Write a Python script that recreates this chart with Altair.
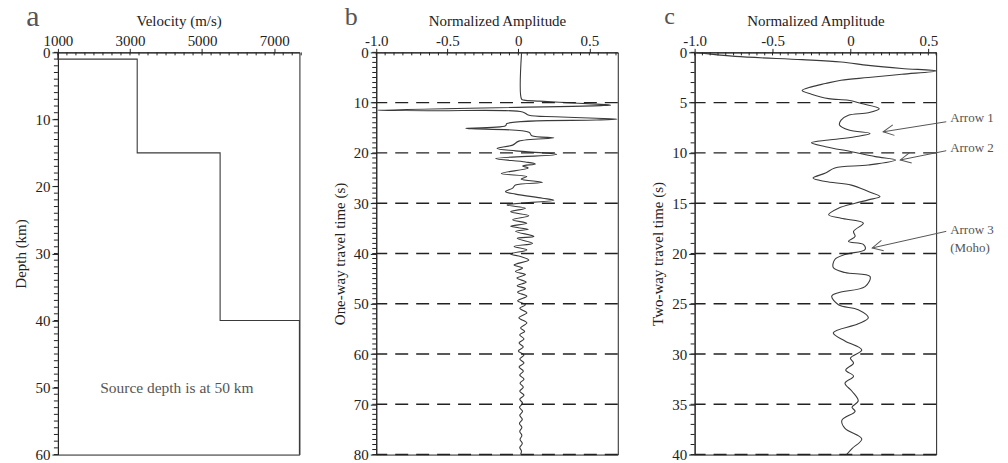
import altair as alt
import pandas as pd
import numpy as np

FONT = "Liberation Serif"
INK = "#222222"
TRACE = "#3a3a3a"
GRAY = "#555555"

# ---------------- Panel a: velocity model ----------------
layer_top_depth = [0, 1, 15, 40]
layer_bottom_depth = [1, 15, 40, 60]
layer_velocity = [1000, 3200, 5500, 7700]
note_text = ["Source depth is at 50 km"]
note_velocity = [4300]
note_depth = [50]

# ---------------- Panel b: one-way trace ----------------
b_time = [0.0, 9.3, 9.5, 9.7, 10.0, 10.3, 10.5, 10.6, 11.5, 11.6, 11.85, 12.5, 12.8, 13.1, 13.3,
          13.45, 14.15, 14.6, 15.1, 15.2, 15.9, 16.6, 17.0, 17.65, 18.45, 19.1, 19.6, 20.3, 21.1,
          21.8, 22.2, 22.6, 23.0, 24.1, 24.7, 25.2, 25.85, 26.4, 27.0, 27.7, 28.2, 29.0, 29.4,
          30.35, 31.0, 31.7, 32.5, 33.3, 34.0, 34.6, 35.2, 35.6, 36.6, 37.0, 38.0, 38.6, 39.3,
          40.1, 40.6, 41.3, 42.3, 42.9, 43.6, 44.2, 44.9, 45.7, 46.4, 47.0, 47.7, 48.5, 49.4,
          50.2, 50.9, 51.8, 52.8, 53.8, 54.8, 55.5, 56.2, 57.0, 57.8, 58.6, 59.4, 60.2, 61.0,
          61.8, 62.6, 63.4, 64.2, 65.0, 65.8, 66.6, 67.4, 68.2, 69.0, 69.8, 70.6, 71.4, 72.2,
          73.0, 73.8, 74.6, 75.4, 76.2, 77.0, 77.8, 78.6, 79.3, 80.0]
b_amp = [0.023, 0.023, 0.04, 0.15, 0.34, 0.55, 0.65, 0.58, -0.99, -0.6, 0.03, 0.075, 0.26, 0.55, 0.695,
         0.55, -0.08, -0.09, -0.37, -0.33, 0.075, 0.095, 0.25, 0.004, -0.04, -0.15, -0.02, 0.27, -0.16,
         0.05, 0.12, 0.03, 0.07, -0.12, 0.06, 0.02, 0.17, -0.02, -0.04, -0.09, -0.02, 0.17, 0.25,
         -0.08, 0.05, -0.054, 0.074, -0.04, 0.06, -0.054, 0.07, -0.02, 0.11, -0.008, 0.1, -0.03, 0.06,
         -0.054, 0.016, 0.074, -0.03, 0.03, -0.02, 0.05, -0.01, 0.055, -0.008, 0.05, -0.005, 0.06, -0.005,
         0.05, 0.01, 0.06, 0.004, 0.06, 0.016, 0.045, 0.01, 0.04, 0.005, 0.035, 0.0, 0.04, 0.01,
         0.04, 0.005, 0.035, 0.01, 0.04, 0.012, 0.035, 0.01, 0.04, 0.01, 0.03, 0.008, 0.03, 0.01,
         0.028, 0.008, 0.025, 0.01, 0.025, 0.012, 0.028, 0.01, 0.022, 0.016]
b_dash_times = [10, 20, 30, 40, 50, 60, 70, 80]

# ---------------- Panel c: two-way trace ----------------
c_time = [0.0, 0.4, 0.72, 0.96, 1.29, 1.6, 1.85, 2.18, 2.5, 2.77, 3.1, 3.43, 3.8, 4.16, 4.6, 4.76,
          5.09, 5.6, 6.0, 6.25, 6.74, 7.23, 7.73, 8.06, 8.39, 8.72, 8.99, 9.38, 9.88, 10.37, 10.7,
          11.2, 11.5, 12.0, 12.5, 12.85, 13.2, 13.84, 14.34, 14.67, 15.0, 15.5, 16.15, 16.5, 16.98,
          17.8, 18.3, 18.8, 19.1, 19.6, 20.1, 20.6, 21.4, 21.9, 22.3, 23.3, 23.9, 24.25, 25.1, 25.6,
          26.4, 27.0, 27.9, 28.7, 29.6, 30.4, 30.9, 31.6, 32.2, 32.9, 33.7, 34.66, 35.3, 35.7, 36.6,
          37.4, 38.45, 39.4, 40.0]
c_amp = [-1.0, -0.74, -0.31, -0.06, 0.115, 0.33, 0.55, 0.33, 0.115, -0.06, -0.16, -0.25, -0.31, -0.25, -0.14, -0.013,
         0.07, 0.185, 0.115, -0.013, -0.06, -0.07, -0.01, 0.126, 0.03, -0.14, -0.25, -0.16, 0.006, 0.16, 0.29,
         0.115, -0.1, -0.16, -0.24, -0.16, 0.006, 0.115, 0.19, 0.115, 0.03, -0.077, -0.14, -0.06, 0.083,
         0.02, 0.03, -0.013, 0.083, 0.094, -0.035, -0.1, -0.11, -0.035, 0.126, 0.094, -0.077, -0.12, -0.077, 0.05,
         0.115, 0.05, -0.11, -0.035, 0.073, 0.0, 0.02, -0.03, 0.02, -0.035, 0.01, 0.05, 0.01, 0.03, -0.055,
         -0.035, 0.073, 0.01, -0.025]
c_dash_times = [5, 10, 15, 20, 25, 30, 35, 40]

arrow_labels = ["Arrow 1", "Arrow 2", "Arrow 3", "(Moho)"]
arrow_label_time = [6.57, 9.48, 17.64, 19.46]
arrow_label_amp = [0.64, 0.64, 0.64, 0.64]
arrow_tail_amp = [0.615, 0.615, 0.615]
arrow_tail_time = [6.9, 9.78, 17.8]
arrow_tip_amp = [0.21, 0.32, 0.14]
arrow_tip_time = [7.9, 10.7, 19.45]

W, H = 242, 403


def amp_label_expr():
    return "datum.value == 0 ? '0' : (datum.value < 0 ? '-' : '') + format(abs(datum.value), '.1f')"


def minor_values(lo, hi, step):
    n = int(round((hi - lo) / step))
    return [round(lo + i * step, 6) for i in range(n + 1)]


def panel(df, xfield, yfield, xdom, ydom, xmajor, xminor_step, ymajor, yminor_step,
          xtitle, ytitle, xlabelexpr, xformat, letter, letter_size, extra_layers, interp="linear"):
    xs = alt.Scale(domain=xdom, nice=False, zero=False)
    ys = alt.Scale(domain=ydom, nice=False, zero=False, reverse=True)
    base = alt.Chart(df)
    xaxis_kwargs = dict(orient="top", values=xmajor, title=xtitle, tickSize=4, labelPadding=0,
                        titlePadding=5, grid=False, labelFlush=False, labelOverlap=False)
    if xlabelexpr:
        xaxis_kwargs["labelExpr"] = xlabelexpr
    if xformat:
        xaxis_kwargs["format"] = xformat
    main = base.mark_line(color=TRACE, strokeWidth=1.1, interpolate=interp).encode(
        x=alt.X(f"{xfield}:Q", scale=xs, axis=alt.Axis(**xaxis_kwargs)),
        y=alt.Y(f"{yfield}:Q", scale=ys, axis=alt.Axis(orient="left", values=ymajor, title=ytitle,
                                                      tickSize=6, labelPadding=2, titlePadding=6,
                                                      format="d", grid=False, labelFlush=False)),
        order="i:Q",
    )
    xminor = alt.Chart(pd.DataFrame({"m": minor_values(xdom[0], xdom[1], xminor_step)})).mark_rule(
        color=INK, strokeWidth=1).encode(
        x=alt.X("m:Q", scale=xs, axis=None), y=alt.value(0), y2=alt.value(3))
    yminor = alt.Chart(pd.DataFrame({"m": minor_values(ydom[0], ydom[1], yminor_step)})).mark_rule(
        color=INK, strokeWidth=1).encode(
        y=alt.Y("m:Q", scale=ys, axis=None), x=alt.value(-4), x2=alt.value(0))
    letter_layer = alt.Chart(pd.DataFrame({"lab": [letter]})).mark_text(
        font=FONT, fontSize=letter_size, color=GRAY, baseline="middle", align="center"
    ).encode(text="lab:N", x=alt.value(-25), y=alt.value(-35))
    layers = [main, xminor, yminor] + [l(xs, ys) for l in extra_layers] + [letter_layer]
    return alt.layer(*layers).resolve_axis(x="independent", y="independent").properties(width=W, height=H)


# ---- panel a data
rows = []
k = 0
for top, bot, v in zip(layer_top_depth, layer_bottom_depth, layer_velocity):
    rows.append({"v": v, "d": top, "i": k}); k += 1
    rows.append({"v": v, "d": bot, "i": k}); k += 1
df_a = pd.DataFrame(rows)
df_note = pd.DataFrame({"txt": note_text, "v": note_velocity, "d": note_depth})


def a_note(xs, ys):
    return alt.Chart(df_note).mark_text(font=FONT, fontSize=15.5, color=GRAY).encode(
        x=alt.X("v:Q", scale=xs, axis=None), y=alt.Y("d:Q", scale=ys, axis=None), text="txt:N")


pa = panel(df_a, "v", "d", [1000, 7700], [0, 60], [1000, 3000, 5000, 7000], 250,
           list(range(0, 61, 10)), 1, "Velocity (m/s)", "Depth (km)", None, "d", "a", 30, [a_note])

# ---- panel b
df_b = pd.DataFrame({"a": b_amp, "t": b_time, "i": range(len(b_time))})
df_bd = pd.DataFrame({"t": b_dash_times})


def b_dash(xs, ys):
    return alt.Chart(df_bd).mark_rule(color=INK, strokeWidth=1.4, strokeDash=[13, 8]).encode(
        y=alt.Y("t:Q", scale=ys, axis=None))


pb = panel(df_b, "a", "t", [-1.0, 0.7], [0, 80], [-1.0, -0.5, 0, 0.5], 0.0625,
           list(range(0, 81, 10)), 1, "Normalized Amplitude", "One-way travel time (s)",
           amp_label_expr(), None, "b", 26, [b_dash], interp="catmull-rom")

# ---- panel c
df_c = pd.DataFrame({"a": c_amp, "t": c_time, "i": range(len(c_time))})
df_cd = pd.DataFrame({"t": c_dash_times})
df_lab = pd.DataFrame({"txt": arrow_labels, "a": arrow_label_amp, "t": arrow_label_time})
px_x = W / (0.55 - (-1.0))
px_y = H / 40.0
ang = []
for ta, tt, pa_, pt in zip(arrow_tail_amp, arrow_tail_time, arrow_tip_amp, arrow_tip_time):
    dx = (pa_ - ta) * px_x
    dy = (pt - tt) * px_y
    ang.append(float(np.degrees(np.arctan2(-dy, -dx)) % 360))
df_arr = pd.DataFrame({"a": arrow_tail_amp, "t": arrow_tail_time, "a2": arrow_tip_amp,
                       "t2": arrow_tip_time, "ang": ang})


def c_dash(xs, ys):
    return alt.Chart(df_cd).mark_rule(color=INK, strokeWidth=1.4, strokeDash=[13, 8]).encode(
        y=alt.Y("t:Q", scale=ys, axis=None))


def c_labels(xs, ys):
    return alt.Chart(df_lab).mark_text(font=FONT, fontSize=13, color=GRAY, align="left").encode(
        x=alt.X("a:Q", scale=xs, axis=None), y=alt.Y("t:Q", scale=ys, axis=None), text="txt:N")


def c_arrow_lines(xs, ys):
    return alt.Chart(df_arr).mark_rule(color=GRAY, strokeWidth=1).encode(
        x=alt.X("a:Q", scale=xs, axis=None), y=alt.Y("t:Q", scale=ys, axis=None), x2="a2:Q", y2="t2:Q")


def c_arrow_heads(xs, ys):
    return alt.Chart(df_arr).mark_point(shape="M 1 -0.5 L 0 0 L 1 0.5", filled=False, color=GRAY,
                                        strokeWidth=1, size=450, opacity=1).encode(
        x=alt.X("a2:Q", scale=xs, axis=None), y=alt.Y("t2:Q", scale=ys, axis=None),
        angle=alt.Angle("ang:Q", scale=None))


pc = panel(df_c, "a", "t", [-1.0, 0.55], [0, 40], [-1.0, -0.5, 0, 0.5], 0.05,
           list(range(0, 41, 5)), 1, "Normalized Amplitude", "Two-way travel time (s)",
           amp_label_expr(), None, "c", 24, [c_dash, c_arrow_lines, c_arrow_heads, c_labels],
           interp="catmull-rom")

chart = alt.hconcat(pa, pb, pc, spacing=77, bounds="flush").configure_view(
    stroke=INK, strokeWidth=1
).configure_axis(
    labelFont=FONT, titleFont=FONT, labelFontSize=15, titleFontSize=15, titleFontWeight="normal",
    labelColor=INK, titleColor=INK, domainColor=INK, tickColor=INK, domainWidth=1, tickWidth=1
).properties(padding={"left": 5, "top": -7, "right": 5, "bottom": 5}, background="white")

chart.save("out.html", embed_options={"renderer": "svg", "actions": False})
